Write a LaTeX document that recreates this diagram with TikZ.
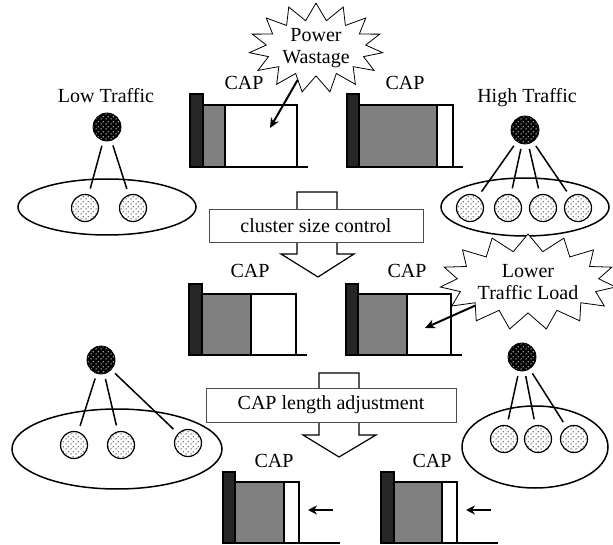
\documentclass[tikz,border=0pt]{standalone}
\usepackage{fontspec}
\setmainfont{Liberation Serif}
\usetikzlibrary{shapes.symbols, patterns.meta, arrows.meta}
\tikzdeclarepattern{name=mydots, type=uncolored,
  bounding box={(0pt,0pt) and (5pt,5pt)}, tile size={(5pt,5pt)},
  code={\fill (1.25pt,1.25pt) circle (0.85pt); \fill (3.75pt,3.75pt) circle (0.85pt);}}
\begin{document}
\begin{tikzpicture}[x=1pt,y=-1pt, font=\fontsize{20}{22}\selectfont,
  head/.style={circle, minimum size=28pt, inner sep=0pt, draw=black, line width=0.8pt,
    preaction={fill=black}, pattern=mydots, pattern color=white!85!black},
  member/.style={circle, minimum size=27pt, inner sep=0pt, draw=black, line width=1.2pt,
    preaction={fill=white}, pattern=mydots, pattern color=black!70},
  link/.style={line width=1.5pt, shorten <=5pt, shorten >=6pt},
  clus/.style={line width=1.5pt},
  darkbar/.style={fill=black!85, draw=black, line width=1.5pt},
  graybox/.style={fill=black!50, draw=black, line width=2pt},
  whitebox/.style={fill=white, draw=black, line width=2pt},
  base/.style={line width=2pt},
  caplbl/.style={anchor=base, inner sep=0pt},
  box/.style={draw=black!70, line width=0.8pt, fill=white, inner sep=0pt},
  blockarrow/.style={draw=black, line width=1.2pt, fill=white},
  burst/.style={starburst, starburst points=15, starburst point height=17pt,
    random starburst=0, draw=black, line width=0.8pt, fill=white, align=center, inner sep=0pt},
  ptr/.style={line width=2pt, -{Stealth[length=10pt,width=9pt]}},
  shrink/.style={line width=2pt, -{Stealth[length=9pt,width=9pt]}}
]
\useasboundingbox (0,0) rectangle (613,545);

% ---------- top-left cluster (Low Traffic)
\node[caplbl] (lowt) at (106,103) {Low Traffic};
\draw[clus] (107,207) ellipse [x radius=89pt, y radius=28pt];
\node[head] (h1) at (107,127) {};
\node[member] (m11) at (85,208) {};
\node[member] (m12) at (133,208) {};
\draw[link] (h1) -- (m11);
\draw[link] (h1) -- (m12);

% ---------- top-right cluster (High Traffic)
\node[caplbl] (hight) at (527,103) {High Traffic};
\draw[clus] (525,207) ellipse [x radius=84pt, y radius=29pt];
\node[head] (h2) at (525,130) {};
\node[member] (m21) at (470,208) {};
\node[member] (m22) at (508,208) {};
\node[member] (m23) at (543,208) {};
\node[member] (m24) at (578,208) {};
\draw[link] (h2) -- (m21);
\draw[link] (h2) -- (m22);
\draw[link] (h2) -- (m23);
\draw[link] (h2) -- (m24);

% ---------- bottom-left cluster
\draw[clus] (117,449) ellipse [x radius=105pt, y radius=40pt];
\node[head] (h3) at (101,360) {};
\node[member] (m31) at (74,445) {};
\node[member] (m32) at (121,445) {};
\node[member] (m33) at (188,443) {};
\draw[link] (h3) -- (m31);
\draw[link] (h3) -- (m32);
\draw[link] (h3) -- (m33);

% ---------- bottom-right cluster
\draw[clus] (535,447) ellipse [x radius=73pt, y radius=41pt];
\node[head] (h4) at (522,357) {};
\node[member] (m41) at (504,439) {};
\node[member] (m42) at (538,439) {};
\node[member] (m43) at (574,439) {};
\draw[link] (h4) -- (m41);
\draw[link] (h4) -- (m42);
\draw[link] (h4) -- (m43);

% ---------- superframes, top row
\node[caplbl] (cap1) at (244,90) {CAP};
\draw[graybox] (203,105) rectangle (225,167);
\draw[whitebox] (225,105) rectangle (297,167);
\draw[darkbar] (190,94) rectangle (203,167);
\draw[base] (190,167) -- (308,167);

\node[caplbl] (cap2) at (405,90) {CAP};
\draw[graybox] (359,105) rectangle (437,167);
\draw[whitebox] (437,105) rectangle (453,167);
\draw[darkbar] (347,94) rectangle (359,167);
\draw[base] (347,167) -- (463,167);

% ---------- superframes, middle row
\node[caplbl] (cap3) at (250,278) {CAP};
\draw[graybox] (202,294) rectangle (251,355);
\draw[whitebox] (251,294) rectangle (296,355);
\draw[darkbar] (189,284) rectangle (202,355);
\draw[base] (189,355) -- (307,355);

\node[caplbl] (cap4) at (407,278) {CAP};
\draw[graybox] (358,294) rectangle (407,355);
\draw[whitebox] (407,294) rectangle (451,355);
\draw[darkbar] (346,284) rectangle (358,355);
\draw[base] (346,355) -- (462,355);

% ---------- superframes, bottom row
\node[caplbl] (cap5) at (274,467) {CAP};
\draw[graybox] (235,482) rectangle (284,543);
\draw[whitebox] (284,482) rectangle (299,543);
\draw[darkbar] (223,472) rectangle (235,543);
\draw[base] (223,543) -- (340,543);
\coordinate (s1a) at (333,510);
\coordinate (s1b) at (308,510);
\draw[shrink] (s1a) -- (s1b);

\node[caplbl] (cap6) at (432,467) {CAP};
\draw[graybox] (394,482) rectangle (442,543);
\draw[whitebox] (442,482) rectangle (457,543);
\draw[darkbar] (381,472) rectangle (394,543);
\draw[base] (381,543) -- (498,543);
\coordinate (s2a) at (491,510);
\coordinate (s2b) at (466,510);
\draw[shrink] (s2a) -- (s2b);

% ---------- block arrows and step boxes
\draw[blockarrow] (297,192) -- (337,192) -- (337,254) -- (354,254) -- (318,277)
  -- (281,254) -- (297,254) -- cycle;
\node[box, minimum width=214pt, minimum height=33pt] (csc) at (316,225.5) {cluster size control};

\draw[blockarrow] (319,373) -- (359,373) -- (359,435) -- (376,435) -- (339,457)
  -- (303,435) -- (319,435) -- cycle;
\node[box, minimum width=250pt, minimum height=34pt] (cla) at (331,405) {CAP length adjustment};

% ---------- bursts
\node[burst, minimum width=134pt, minimum height=82pt] (pw) at (316,48) {Power\\Wastage};
\coordinate (pwt) at (270,128);
\draw[ptr] (pw) -- (pwt);

\node[burst, minimum width=150pt, minimum height=96pt] (ltl) at (528,282) {Lower\\Traffic Load};
\coordinate (ltlt) at (425,328);
\draw[ptr] (ltl) -- (ltlt);
\end{tikzpicture}
\end{document}
